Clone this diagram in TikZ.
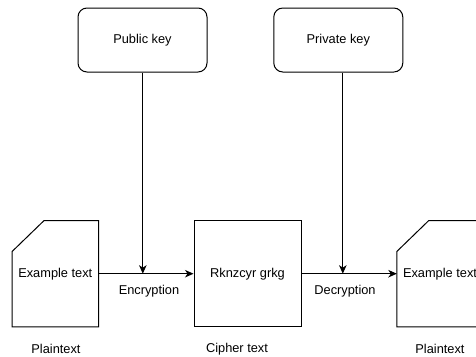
\documentclass[tikz,border=0pt]{standalone}
\usepackage{fontspec}
\setmainfont{Liberation Sans}
\usetikzlibrary{arrows.meta,calc}

\tikzset{
  base/.style={font=\fontsize{12.8}{15}\selectfont, text=black},
  keybox/.style={base, draw, line width=1pt, rounded corners=9pt,
    minimum width=129pt, minimum height=64pt, inner sep=0pt},
  cipherbox/.style={base, draw, line width=1pt,
    minimum width=107pt, minimum height=106pt, inner sep=0pt},
  docbox/.style={base, minimum width=86pt, minimum height=106pt, inner sep=0pt},
  docline/.style={line width=1pt},
  label/.style={base, inner sep=0pt},
  flow/.style={line width=1pt, -{Stealth[length=8.5pt,width=7.5pt,inset=2.5pt]}}
}

\begin{document}
\begin{tikzpicture}[x=1pt,y=-1pt]
  \useasboundingbox (0,0) rectangle (476,356);

  % key sources
  \node[keybox] (pub)  at (142.5,40) {Public key};
  \node[keybox] (priv) at (338.3,40) {Private key};

  % documents and cipher text
  \node[docbox]    (docL)   at (55.3,273.7) {Example text};
  \node[cipherbox] (cipher) at (247.5,273.7) {Rknzcyr grkg};
  \node[docbox]    (docR)   at (440,273.7) {Example text};

  % document outlines with a clipped top-left corner
  \foreach \d in {docL,docR}{
    \draw[docline] ($(\d.north west)+(32,0)$) -- (\d.north east) -- (\d.south east)
      -- (\d.south west) -- ($(\d.north west)+(0,31)$) -- cycle;
  }

  % captions
  \node[label] (capL) at (56,349)  {Plaintext};
  \node[label] (capC) at (237,349) {Cipher text};
  \node[label] (capR) at (440,349) {Plaintext};

  % flow of the message
  \draw[flow] (docL.east) -- (cipher.west);
  \draw[flow] (cipher.east) -- (docR.west);
  \node[label] (enc) at (149,291) {Encryption};
  \node[label] (dec) at (345,291) {Decryption};

  % keys feeding the transformations
  \coordinate (pubout)  at ($(pub.south)+(0.3,0)$);
  \coordinate (privout) at ($(priv.south)+(4.5,0)$);
  \draw[flow] (pubout) -- (pubout |- cipher.west);
  \draw[flow] (privout) -- (privout |- cipher.east);
\end{tikzpicture}
\end{document}
